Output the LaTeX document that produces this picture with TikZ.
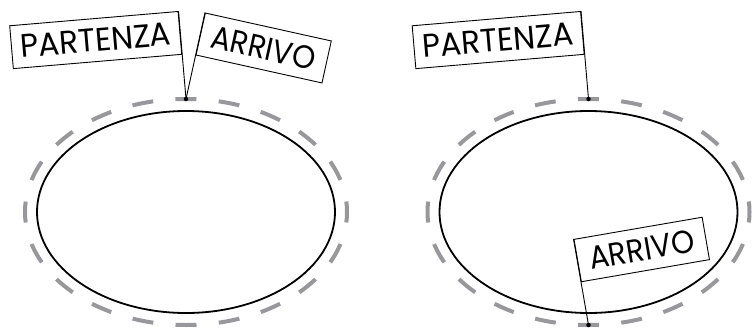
\documentclass[tikz,border=0pt]{standalone}
\usepackage{fontspec}
\setmainfont{Poppins}
\usepackage{graphicx}
\definecolor{dashgray}{RGB}{152,152,156}
\begin{document}
\begin{tikzpicture}[x=1pt,y=-1pt,
  ring/.style={draw=black,line width=1.8pt},
  track/.style={draw=dashgray,line width=4pt,dash pattern=on 21pt off 22.37pt,dash phase=10.5pt},
  flag/.style={draw=black,line width=0.9pt,fill=white,minimum height=43pt,inner sep=0pt},
  pole/.style={draw=black,line width=0.9pt},
  pin/.style={circle,fill=black,inner sep=0pt,minimum size=4.5pt}]
\useasboundingbox (0,0) rectangle (752,327);
% left figure
\draw[track] (186,212) ellipse [x radius=161, y radius=113];
\draw[ring] (186,212) ellipse [x radius=149, y radius=101];
\coordinate (d1) at (186,99);
\node[flag,minimum width=169pt,rotate=4.85,anchor=north east] (p1) at (178.5,11)
  {\resizebox{151pt}{22.7pt}{PARTENZA}};
\node[flag,minimum width=129pt,rotate=-12.5,anchor=north west] (a1) at (205,12.5)
  {\resizebox{106pt}{22.7pt}{ARRIVO}};
\draw[pole] (p1.north east) -- (d1);
\draw[pole] (a1.north west) -- (d1);
\node[pin] (k1) at (d1) {};
% right figure
\draw[track] (588.5,212) ellipse [x radius=161, y radius=113];
\draw[ring] (588.5,212) ellipse [x radius=149, y radius=101];
\coordinate (d2) at (588.5,99);
\coordinate (d3) at (588.5,325);
\node[flag,minimum width=169pt,rotate=4.85,anchor=north east] (p2) at (581,11)
  {\resizebox{151pt}{22.7pt}{PARTENZA}};
\node[flag,minimum width=130pt,rotate=9.8,anchor=north west] (a2) at (573.5,239)
  {\resizebox{106pt}{22.7pt}{ARRIVO}};
\draw[pole] (p2.north east) -- (d2);
\draw[pole] (a2.north west) -- (d3);
\node[pin] (k2) at (d2) {};
\node[pin] (k3) at (d3) {};
\end{tikzpicture}
\end{document}
